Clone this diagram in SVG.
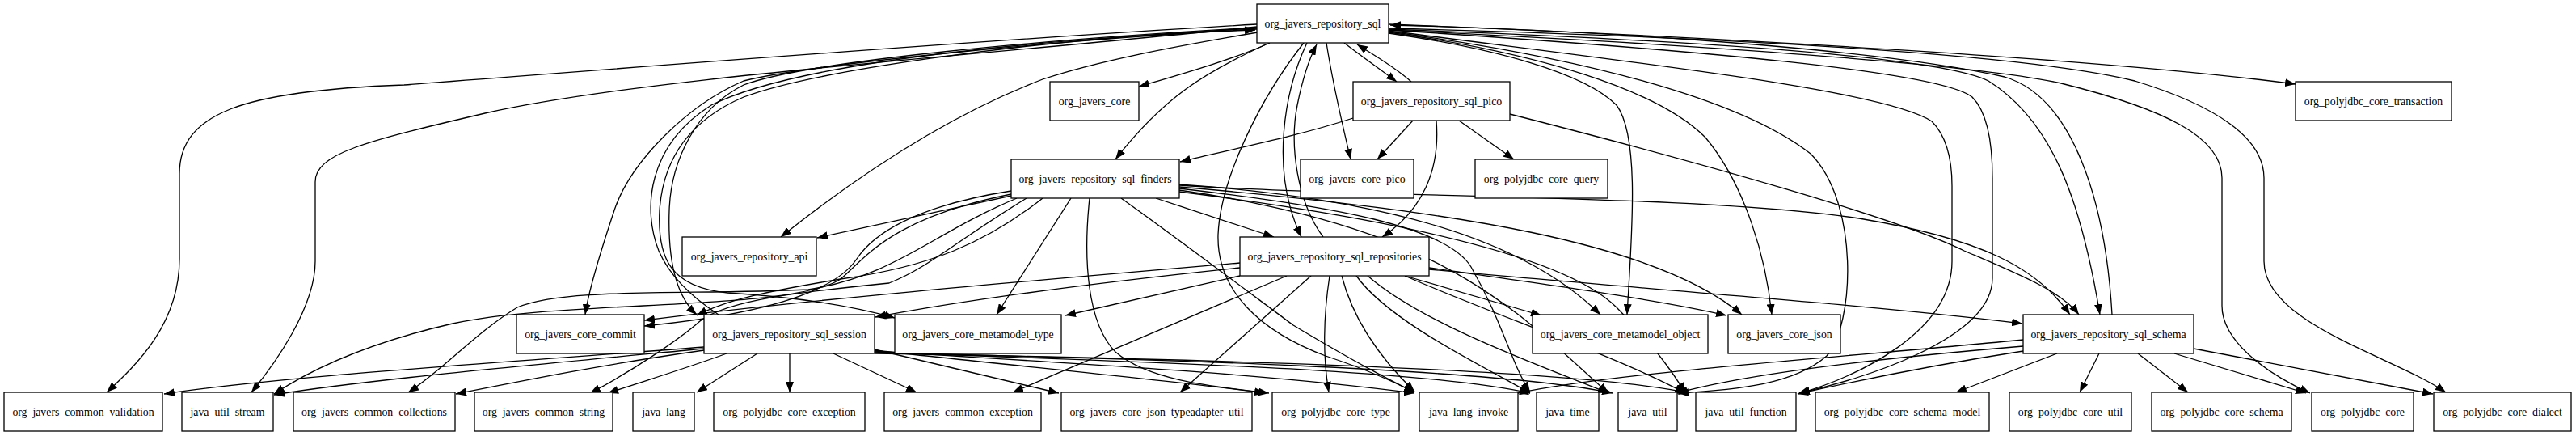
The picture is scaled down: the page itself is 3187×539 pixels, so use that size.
<svg xmlns="http://www.w3.org/2000/svg" width="3187" height="539" viewBox="0 0 3187 539">
<style>
.n rect{fill:#fff;stroke:#000;stroke-width:1.3}
.n text{font-family:"Liberation Serif","Times New Roman",serif;font-size:13.8px;text-anchor:middle;fill:#000}
#edges path{fill:none;stroke:#000;stroke-width:1.3;marker-end:url(#a)}
</style>
<defs>
<marker id="a" markerUnits="userSpaceOnUse" markerWidth="13" markerHeight="10" refX="13" refY="5" orient="auto"><path d="M0,0L13,5L0,10z" fill="#000"/></marker>
</defs>
<rect width="3187" height="539" fill="#fff"/>
<g id="edges">
<path d="M1571,53 C1530,72 1460,92 1409,107"/>
<path d="M1566,55 C1490,90 1440,120 1380,197"/>
<path d="M1663,53 C1685,70 1708,86 1728,101"/>
<path d="M1746,101 C1726,83 1700,68 1679,55"/>
<path d="M1641,53 C1650,110 1660,150 1671,197"/>
<path d="M1617,53 C1590,110 1570,210 1610,293"/>
<path d="M1637,293 C1605,250 1595,180 1605,130 C1612,95 1620,72 1629,55"/>
<path d="M1613,53 C1560,120 1510,220 1507,290 C1505,360 1560,410 1640,440 C1700,460 1730,475 1750,485"/>
<path d="M1555,30 C1200,50 700,90 500,105 C300,112 222,140 222,215 L222,320 C222,400 170,450 132,485"/>
<path d="M1555,33 C1200,70 800,95 600,140 C450,175 390,190 390,225 L390,323 C390,380 340,450 311,485"/>
<path d="M1555,36 C1300,50 1000,80 920,100 C850,130 780,200 760,260 C740,320 728,360 724,389"/>
<path d="M1556,40 C1450,58 1360,75 1290,98 C1180,140 1070,210 966,293"/>
<path d="M1555,34 C1300,48 1000,75 920,105 C860,135 830,200 828,260 C826,320 835,365 862,389"/>
<path d="M1555,35 C1250,50 1000,90 920,120 C850,150 820,200 816,260 C813,320 830,355 900,362 C1000,368 1060,380 1107,393"/>
<path d="M889,389 C860,370 830,345 815,310 C795,260 800,180 880,130 C1000,70 1350,45 1553,37"/>
<path d="M1718,41 C1850,60 1960,90 2000,130 C2030,170 2018,300 2013,389"/>
<path d="M1718,40 C1900,65 2050,110 2110,170 C2160,230 2185,320 2192,389"/>
<path d="M1718,39 C1950,70 2150,120 2240,190 C2300,250 2295,400 2260,440 C2220,475 2150,482 2076,486"/>
<path d="M1718,38 C2000,75 2330,110 2390,150 C2410,170 2415,200 2415,230 L2415,323 C2415,410 2300,465 2224,487"/>
<path d="M1718,37 C2100,62 2400,88 2440,120 C2460,140 2465,180 2465,220 L2465,344 C2465,420 2300,470 2226,486"/>
<path d="M1718,36 C2100,50 2400,70 2460,100 C2540,150 2575,250 2598,389"/>
<path d="M2613,389 C2605,250 2565,120 2480,95 C2300,55 1900,35 1720,31"/>
<path d="M1718,30 C2100,45 2600,72 2840,104"/>
<path d="M1718,35 C2100,45 2500,65 2641,100 C2740,130 2801,170 2801,220 L2801,323 C2801,400 2960,440 3026,485"/>
<path d="M1718,37 C2100,55 2450,80 2550,103 C2680,135 2749,170 2749,220 L2749,378 C2749,420 2800,460 2858,486"/>
<path d="M1748,149 L1704,197"/>
<path d="M1805,149 L1873,197"/>
<path d="M1674,146 C1600,170 1520,185 1460,200"/>
<path d="M1777,149 C1782,210 1760,260 1710,293"/>
<path d="M1868,141 C2100,200 2350,270 2430,310 C2500,340 2550,360 2572,389"/>
<path d="M1251,242 L1011,294"/>
<path d="M1430,245 L1576,293"/>
<path d="M1325,245 L1233,389"/>
<path d="M1459,229 C1700,245 2100,240 2300,270 C2450,295 2520,330 2561,389"/>
<path d="M1251,236 C1130,255 1080,290 1060,320 C1030,365 930,390 797,403"/>
<path d="M1251,240 C1100,270 1070,320 1040,345 C980,385 700,370 560,400 C450,425 380,460 339,487"/>
<path d="M1258,245 C1150,290 1110,340 1000,358 C850,365 700,355 640,380 C590,410 545,460 505,485"/>
<path d="M1270,245 C1180,300 1150,330 1100,350 C1000,360 900,370 866,397 C840,420 780,460 730,486"/>
<path d="M1290,245 C1220,300 1150,330 1040,345 C950,360 900,370 862,390"/>
<path d="M1348,245 C1340,320 1345,400 1380,435 C1420,470 1500,478 1570,486"/>
<path d="M1387,245 C1450,290 1530,350 1600,402 C1680,450 1720,470 1750,485"/>
<path d="M1459,228 C1700,245 1880,290 1980,389"/>
<path d="M1459,231 C1800,260 2050,300 2155,389"/>
<path d="M1459,233 C1650,255 1790,280 1820,330 C1860,400 1870,450 1893,485"/>
<path d="M1459,235 C1700,270 1800,330 1880,390 C1930,430 1960,460 1990,486"/>
<path d="M1459,237 C1800,280 1950,330 2000,380 C2040,420 2070,460 2085,486"/>
<path d="M1534,325 C1300,345 1000,370 797,396"/>
<path d="M1534,331 C1350,350 1200,370 1083,392"/>
<path d="M1534,341 L1318,390"/>
<path d="M1592,341 L1253,485"/>
<path d="M1622,341 L1460,485"/>
<path d="M1645,341 C1636,400 1638,450 1644,485"/>
<path d="M1660,341 C1675,400 1715,450 1750,484"/>
<path d="M1678,341 C1720,400 1850,460 1893,486"/>
<path d="M1692,341 C1760,400 1900,450 1990,486"/>
<path d="M1738,341 C1850,390 2000,440 2085,486"/>
<path d="M1738,341 L1907,390"/>
<path d="M1768,331 C1900,350 2050,370 2136,390"/>
<path d="M1768,333 C2000,355 2300,375 2502,400"/>
<path d="M871,429 C600,450 350,465 203,487"/>
<path d="M871,431 C650,452 450,470 339,488"/>
<path d="M871,433 C750,450 650,470 564,487"/>
<path d="M899,437 C850,455 800,470 752,486"/>
<path d="M937,437 L862,485"/>
<path d="M977,437 L977,485"/>
<path d="M1031,437 L1134,485"/>
<path d="M1082,432 L1310,486"/>
<path d="M1082,433 C1250,452 1450,470 1565,486"/>
<path d="M1082,434 C1300,448 1550,460 1750,486"/>
<path d="M1082,435 C1400,448 1750,455 1893,486"/>
<path d="M1082,436 C1400,443 1850,455 1995,486"/>
<path d="M1082,437 C1450,443 1950,455 2090,486"/>
<path d="M2545,437 L2420,485"/>
<path d="M2597,437 L2573,485"/>
<path d="M2645,437 L2707,485"/>
<path d="M2690,437 L2853,486"/>
<path d="M2714,431 L3010,487"/>
<path d="M2503,420 C2300,440 2000,460 1878,486"/>
<path d="M2503,428 C2300,445 2150,465 2075,486"/>
<path d="M2503,434 C2400,450 2300,470 2224,487"/>
</g>
<g id="sql" class="n"><rect x="1555" y="5" width="163" height="48"/><text x="1636.5" y="33.5">org_javers_repository_sql</text></g>
<g id="core" class="n"><rect x="1299" y="101" width="110" height="48"/><text x="1354" y="129.5">org_javers_core</text></g>
<g id="pico" class="n"><rect x="1674" y="101" width="194" height="48"/><text x="1771" y="129.5">org_javers_repository_sql_pico</text></g>
<g id="transaction" class="n"><rect x="2840" y="101" width="193" height="48"/><text x="2936.5" y="129.5">org_polyjdbc_core_transaction</text></g>
<g id="finders" class="n"><rect x="1251" y="197" width="208" height="48"/><text x="1355" y="225.5">org_javers_repository_sql_finders</text></g>
<g id="core_pico" class="n"><rect x="1609" y="197" width="140" height="48"/><text x="1679" y="225.5">org_javers_core_pico</text></g>
<g id="core_query" class="n"><rect x="1825" y="197" width="164" height="48"/><text x="1907" y="225.5">org_polyjdbc_core_query</text></g>
<g id="repo_api" class="n"><rect x="844" y="293" width="166" height="48"/><text x="927" y="321.5">org_javers_repository_api</text></g>
<g id="repositories" class="n"><rect x="1534" y="293" width="234" height="48"/><text x="1651" y="321.5">org_javers_repository_sql_repositories</text></g>
<g id="commit" class="n"><rect x="639" y="389" width="158" height="48"/><text x="718" y="417.5">org_javers_core_commit</text></g>
<g id="session" class="n"><rect x="871" y="389" width="211" height="48"/><text x="976.5" y="417.5">org_javers_repository_sql_session</text></g>
<g id="mm_type" class="n"><rect x="1107" y="389" width="206" height="48"/><text x="1210" y="417.5">org_javers_core_metamodel_type</text></g>
<g id="mm_object" class="n"><rect x="1896" y="389" width="217" height="48"/><text x="2004.5" y="417.5">org_javers_core_metamodel_object</text></g>
<g id="core_json" class="n"><rect x="2138" y="389" width="139" height="48"/><text x="2207.5" y="417.5">org_javers_core_json</text></g>
<g id="schema" class="n"><rect x="2503" y="389" width="211" height="48"/><text x="2608.5" y="417.5">org_javers_repository_sql_schema</text></g>
<g id="validation" class="n"><rect x="5" y="485" width="196" height="48"/><text x="103" y="513.5">org_javers_common_validation</text></g>
<g id="stream" class="n"><rect x="225" y="485" width="113" height="48"/><text x="281.5" y="513.5">java_util_stream</text></g>
<g id="collections" class="n"><rect x="363" y="485" width="200" height="48"/><text x="463" y="513.5">org_javers_common_collections</text></g>
<g id="string" class="n"><rect x="587" y="485" width="171" height="48"/><text x="672.5" y="513.5">org_javers_common_string</text></g>
<g id="java_lang" class="n"><rect x="783" y="485" width="76" height="48"/><text x="821" y="513.5">java_lang</text></g>
<g id="pj_exception" class="n"><rect x="883" y="485" width="187" height="48"/><text x="976.5" y="513.5">org_polyjdbc_core_exception</text></g>
<g id="common_exception" class="n"><rect x="1094" y="485" width="194" height="48"/><text x="1191" y="513.5">org_javers_common_exception</text></g>
<g id="typeadapter" class="n"><rect x="1313" y="485" width="236" height="48"/><text x="1431" y="513.5">org_javers_core_json_typeadapter_util</text></g>
<g id="pj_type" class="n"><rect x="1574" y="485" width="157" height="48"/><text x="1652.5" y="513.5">org_polyjdbc_core_type</text></g>
<g id="lang_invoke" class="n"><rect x="1756" y="485" width="122" height="48"/><text x="1817" y="513.5">java_lang_invoke</text></g>
<g id="java_time" class="n"><rect x="1901" y="485" width="77" height="48"/><text x="1939.5" y="513.5">java_time</text></g>
<g id="java_util" class="n"><rect x="2002" y="485" width="73" height="48"/><text x="2038.5" y="513.5">java_util</text></g>
<g id="util_function" class="n"><rect x="2098" y="485" width="124" height="48"/><text x="2160" y="513.5">java_util_function</text></g>
<g id="schema_model" class="n"><rect x="2246" y="485" width="215" height="48"/><text x="2353.5" y="513.5">org_polyjdbc_core_schema_model</text></g>
<g id="pj_util" class="n"><rect x="2486" y="485" width="151" height="48"/><text x="2561.5" y="513.5">org_polyjdbc_core_util</text></g>
<g id="pj_schema" class="n"><rect x="2662" y="485" width="173" height="48"/><text x="2748.5" y="513.5">org_polyjdbc_core_schema</text></g>
<g id="pj_core" class="n"><rect x="2860" y="485" width="126" height="48"/><text x="2923" y="513.5">org_polyjdbc_core</text></g>
<g id="pj_dialect" class="n"><rect x="3011" y="485" width="170" height="48"/><text x="3096" y="513.5">org_polyjdbc_core_dialect</text></g>
</svg>
